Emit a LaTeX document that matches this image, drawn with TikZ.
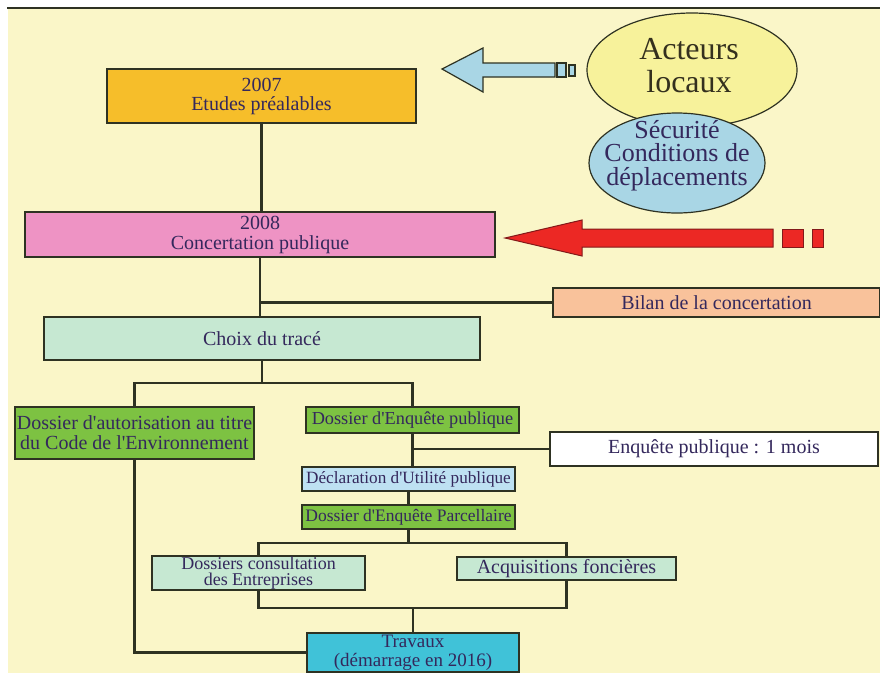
\documentclass[tikz,border=0pt]{standalone}
\usepackage{fontspec}
\setmainfont{Liberation Serif}
\usepackage{tikz}
\usetikzlibrary{shapes.geometric}
\definecolor{fond}{RGB}{250,246,200}
\definecolor{trait}{RGB}{46,50,34}
\definecolor{txt}{RGB}{52,40,92}
\definecolor{noir}{RGB}{52,48,30}
\definecolor{orangeE}{RGB}{246,190,42}
\definecolor{rose}{RGB}{238,147,196}
\definecolor{saumon}{RGB}{249,194,155}
\definecolor{menthe}{RGB}{198,232,210}
\definecolor{vert}{RGB}{125,194,66}
\definecolor{ciel}{RGB}{190,225,242}
\definecolor{turquoise}{RGB}{64,194,216}
\definecolor{jaune}{RGB}{247,242,155}
\definecolor{bleu}{RGB}{169,214,229}
\definecolor{rouge}{RGB}{236,40,36}
\definecolor{rougeF}{RGB}{130,25,25}

\begin{document}
\begin{tikzpicture}[x=1pt,y=-1pt,
    boite/.style={draw=trait,line width=1.8pt,inner sep=0pt,align=center,text=txt,font=\fontsize{20}{19}\selectfont},
    bulle/.style={ellipse,draw=trait,line width=1.2pt,inner sep=0pt},
    lien/.style={draw=trait,line width=2.2pt}]
  \useasboundingbox (0,0) rectangle (880,673);
  \fill[fond] (8,8) rectangle (880,673);
  \draw[trait,line width=1.5pt] (7,8) -- (880,8);
  \node[bulle,fill=jaune,minimum width=210,minimum height=114] (act) at (692,70) {};
  \node[bulle,fill=bleu,minimum width=176,minimum height=100] (secu) at (677,163) {};
  \node[text=noir,align=center,font=\fontsize{32}{33}\selectfont] (acttxt) at (689,66) {Acteurs\\locaux};
  \node[text=txt,align=center,font=\fontsize{26}{23.5}\selectfont] (secutxt) at (677,155.5) {Sécurité\\Conditions de\\déplacements};
  \filldraw[fill=bleu,draw=trait,line width=1.2pt] (442,69) -- (483,48) -- (483,63) -- (555,63) -- (555,77) -- (483,77) -- (483,92) -- cycle;
  \filldraw[fill=bleu,draw=trait,line width=1.2pt] (557,63) rectangle (566,77);
  \filldraw[fill=bleu,draw=trait,line width=1.2pt] (569,65) rectangle (575,76);
  \filldraw[fill=rouge,draw=rougeF,line width=1pt] (505,238) -- (582,220) -- (582,229) -- (773,229) -- (773,247) -- (582,247) -- (582,256) -- cycle;
  \filldraw[fill=rouge,draw=rougeF,line width=1pt] (782,229) rectangle (803,247);
  \filldraw[fill=rouge,draw=rougeF,line width=1pt] (812,229) rectangle (823,247);
  \node[boite,fill=orangeE,minimum width=309,minimum height=54] (a) at (261.5,96) {2007\\Etudes préalables};
  \node[boite,fill=rose,minimum width=470,minimum height=45,font=\fontsize{20}{20}\selectfont] (b) at (260,234.5) {2008\\Concertation publique};
  \node[boite,fill=saumon,minimum width=327,minimum height=29] (bil) at (716.5,302.5) {Bilan de la concertation};
  \node[boite,fill=menthe,minimum width=436,minimum height=43] (c) at (262,338.5) {Choix du tracé};
  \node[boite,fill=vert,minimum width=239,minimum height=52,font=\fontsize{20}{20}\selectfont] (d) at (134.5,433) {Dossier d\textquotesingle autorisation au titre\\du Code de l\textquotesingle Environnement};
  \node[boite,fill=vert,minimum width=213,minimum height=26,font=\fontsize{18.3}{18}\selectfont] (e) at (412.5,420) {Dossier d\textquotesingle Enquête publique};
  \node[boite,fill=white,minimum width=328,minimum height=34] (g) at (714,449) {Enquête publique : 1 mois};
  \node[boite,fill=ciel,minimum width=213,minimum height=24,font=\fontsize{17.2}{18}\selectfont] (f) at (408.5,479) {Déclaration d\textquotesingle Utilité publique};
  \node[boite,fill=vert,minimum width=213,minimum height=24,font=\fontsize{17.5}{18}\selectfont] (h) at (408.5,517) {Dossier d\textquotesingle Enquête Parcellaire};
  \node[boite,fill=menthe,minimum width=213,minimum height=34,font=\fontsize{18}{16.5}\selectfont] (i) at (258.5,573) {Dossiers consultation\\des Entreprises};
  \node[boite,fill=menthe,minimum width=219,minimum height=23] (j) at (566.5,568.5) {Acquisitions foncières};
  \node[boite,fill=turquoise,minimum width=212,minimum height=39,font=\fontsize{19}{19}\selectfont] (k) at (413,652.5) {Travaux\\(démarrage en 2016)};
  \draw[lien] (a.south) -- (a.south |- b.north);
  \draw[lien] (b.south) -- (b.south |- c.north);
  \draw[lien] (b.south |- bil.west) -- (bil.west);
  \draw[lien] (c.south) -- ++(0,22) coordinate (c1);
  \draw[lien] (d.north) |- (c1) -| (e.north);
  \draw[lien] (e.south) -- (e.south |- f.north);
  \draw[lien] (e.south |- g.west) -- (g.west);
  \draw[lien] (f.south) -- (h.north);
  \draw[lien] (h.south) -- ++(0,13) coordinate (h1);
  \draw[lien] (i.north) |- (h1) -| (j.north);
  \draw[lien] (i.south) -- ++(0,17) coordinate (i1) -| (j.south);
  \draw[lien] (i1 -| k.north) -- (k.north);
  \draw[lien] (d.south) |- (k.west);
\end{tikzpicture}
\end{document}
